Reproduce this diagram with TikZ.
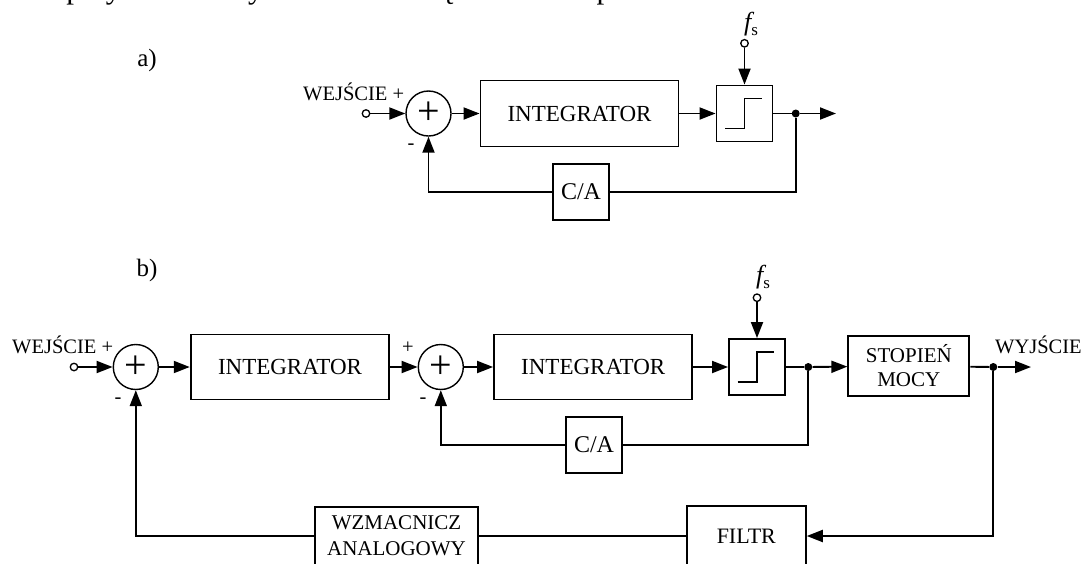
\documentclass[tikz,border=0pt]{standalone}
\usepackage{fontspec}
\setmainfont{Liberation Serif}
\usetikzlibrary{arrows.meta,calc}
\begin{document}
\begin{tikzpicture}[x=1pt,y=-1pt,
  every node/.style={font=\fontsize{20.5}{24}\selectfont},
  blk/.style={draw, line width=1.9pt, inner sep=0pt, align=center},
  sumj/.style={draw, circle, line width=1.4pt, minimum size=45pt, inner sep=0pt, font=\fontsize{40}{40}\selectfont},
  inp/.style={draw, circle, fill=white, line width=1.3pt, minimum size=7.5pt, inner sep=0pt},
  jdot/.style={circle, fill=black, minimum size=8pt, inner sep=0pt},
  wire/.style={line width=1.9pt},
  arr/.style={wire, -{Triangle[length=16pt,width=12pt]}},
  lbl/.style={inner sep=0pt},
  steplin/.style={line width=1.9pt},
  fslbl/.style={inner sep=0pt, font=\fontsize{26}{26}\selectfont}
]
\clip (0,0) rectangle (1081,563);
\fill[white] (0,0) rectangle (1081,563);

% cut-off text line at the top
\node[lbl, anchor=base west, font=\fontsize{31}{31}\selectfont] (toptxt) at (-1,-1.5) {o dB przy dwukrotnym wzroście częstotliwości próbkowania.};

% ---------------- a) ----------------
\node[lbl, font=\fontsize{25}{25}\selectfont] (la) at (147,60) {a)};
\node[lbl, anchor=base west] (wejA) at (303,100.5) {WEJŚCIE +};
\node[inp] (inA) at (366,113.5) {};
\node[sumj] (sumA) at (428.5,113.5) {+};
\node[lbl] (minA) at (411,147) {-};
\node[blk, minimum width=198pt, minimum height=66pt, font=\fontsize{23}{23}\selectfont] (intA) at (579.5,113.5) {INTEGRATOR};
\node[blk, minimum width=56pt, minimum height=56pt] (qA) at (744.5,113.5) {};
\draw[steplin, shift={(qA.center)}] (-19.5,15) -- (0,15) -- (0,-15) -- (17,-15);
\node[inp] (fsA) at (744.5,43.3) {};
\node[fslbl] (fsAl) at (751,24) {\itshape f\upshape\raisebox{-0.4ex}{\fontsize{17}{17}\selectfont s}};
\node[jdot] (dotA) at (795.7,113.5) {};
\coordinate (outA) at (836,113.5);
\node[blk, minimum width=56pt, minimum height=56pt, font=\fontsize{24}{24}\selectfont] (caA) at (581,192) {C/A};

\draw[arr] (inA) -- (sumA);
\draw[arr] (sumA) -- (intA);
\draw[arr] (intA) -- (qA);
\draw[wire] (qA) -- (dotA);
\draw[arr] (dotA) -- (outA);
\draw[arr] (fsA) -- (qA);
\draw[wire] (dotA) |- (caA);
\draw[arr] (caA) -| (sumA);

% ---------------- b) ----------------
\node[lbl, font=\fontsize{25}{25}\selectfont] (lb) at (147,270) {b)};
\node[lbl, anchor=base west] (wejB) at (12,353) {WEJŚCIE +};
\node[inp] (inB) at (74,367) {};
\node[sumj] (sumB1) at (135.8,367) {+};
\node[lbl] (minB1) at (118,401) {-};
\node[blk, minimum width=198.6pt, minimum height=65pt, font=\fontsize{23}{23}\selectfont] (intB1) at (290,367) {INTEGRATOR};
\node[lbl] (plB2) at (408,347.5) {+};
\node[sumj] (sumB2) at (440.8,367) {+};
\node[lbl] (minB2) at (423,400.7) {-};
\node[blk, minimum width=198.3pt, minimum height=65pt, font=\fontsize{23}{23}\selectfont] (intB2) at (593.2,367) {INTEGRATOR};
\node[blk, minimum width=56pt, minimum height=56pt] (qB) at (757,367) {};
\draw[steplin, shift={(qB.center)}] (-19.5,15) -- (0,15) -- (0,-15) -- (17,-15);
\node[inp] (fsB) at (757,297.7) {};
\node[fslbl] (fsBl) at (763,277) {\itshape f\upshape\raisebox{-0.4ex}{\fontsize{17}{17}\selectfont s}};
\node[jdot] (dotB1) at (808.3,367) {};
\node[blk, minimum width=121pt, minimum height=60pt, font=\fontsize{21}{24}\selectfont] (stop) at (908.8,366) {STOPIEŃ\\MOCY};
\node[jdot] (dotB2) at (993.3,367) {};
\coordinate (outB) at (1031,367);
\node[lbl, anchor=base west] (wyj) at (995,353) {WYJŚCIE};
\node[blk, minimum width=56pt, minimum height=56pt, font=\fontsize{24}{24}\selectfont] (caB) at (594,445) {C/A};
\node[blk, minimum width=163pt, minimum height=58pt, font=\fontsize{21}{26}\selectfont] (wz) at (396.5,536) {WZMACNICZ\\ANALOGOWY};
\node[blk, minimum width=119pt, minimum height=60pt, font=\fontsize{22}{22}\selectfont] (filtr) at (746.3,536) {FILTR};

\draw[arr] (inB) -- (sumB1);
\draw[arr] (sumB1) -- (intB1);
\draw[arr] (intB1) -- (sumB2);
\draw[arr] (sumB2) -- (intB2);
\draw[arr] (intB2) -- (qB);
\draw[arr] (fsB) -- (qB);
\draw[wire] (qB) -- (dotB1);
\draw[arr] (dotB1) -- (stop);
\draw[wire] (stop) -- (dotB2);
\draw[arr] (dotB2) -- (outB);
\draw[wire] (dotB1) |- (caB);
\draw[arr] (caB) -| (sumB2);
\draw[arr] (dotB2) |- (filtr);
\draw[wire] (filtr) -- (wz);
\draw[arr] (wz) -| (sumB1);
\end{tikzpicture}
\end{document}
